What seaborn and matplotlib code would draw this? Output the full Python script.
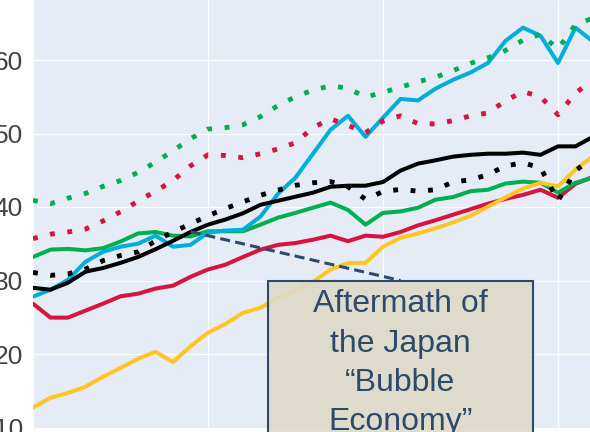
import pandas as pd
import matplotlib.pyplot as plt
from matplotlib.colors import to_rgba
from matplotlib.patches import Rectangle
import seaborn as sns

years = list(range(1980, 2013))

black_solid = [29.0, 28.75, 29.7, 31.2, 31.7, 32.4, 33.2, 34.25, 35.4, 36.6, 37.6, 38.3, 39.15,
               40.3, 40.85, 41.4, 41.95, 42.75, 42.9, 42.9, 43.4, 44.95, 45.9, 46.35, 46.85,
               47.1, 47.25, 47.25, 47.4, 47.1, 48.25, 48.25, 49.55]
cyan_solid = [27.8, 28.75, 30.1, 32.55, 33.9, 34.6, 35.0, 36.1, 34.6, 34.85, 36.5, 36.8, 36.9,
              38.7, 41.8, 44.0, 47.25, 50.5, 52.4, 49.55, 52.15, 54.7, 54.5, 56.1, 57.3,
              58.3, 59.6, 62.6, 64.4, 63.3, 59.6, 64.4, 62.5]
green_solid = [33.2, 34.2, 34.3, 34.1, 34.4, 35.3, 36.4, 36.6, 36.1, 36.0, 36.7, 36.7, 36.7,
               37.6, 38.55, 39.2, 39.9, 40.6, 39.6, 37.6, 39.2, 39.4, 39.9, 41.0, 41.35,
               42.15, 42.35, 43.2, 43.45, 43.3, 41.95, 43.3, 44.0]
red_solid = [26.85, 24.95, 24.95, 25.9, 26.85, 27.85, 28.2, 28.9, 29.3, 30.5, 31.5, 32.15, 33.2,
             34.2, 34.85, 35.1, 35.55, 36.1, 35.35, 36.1, 35.95, 36.6, 37.5, 38.2, 38.95,
             39.7, 40.45, 41.1, 41.65, 42.35, 41.25, 43.15, 44.1]
yellow_solid = [12.7, 14.05, 14.7, 15.55, 16.9, 18.1, 19.35, 20.3, 18.9, 21.05, 22.9, 24.1, 25.6,
                26.3, 27.65, 28.6, 29.8, 31.5, 32.35, 32.4, 34.6, 35.8, 36.4, 37.1, 37.9,
                38.8, 40.05, 41.3, 42.5, 43.3, 42.8, 45.1, 46.9]
green_dotted = [40.9, 40.45, 41.2, 41.85, 42.8, 43.6, 44.7, 46.1, 47.65, 49.3, 50.6, 50.8, 51.2,
                52.3, 53.8, 55.0, 55.9, 56.5, 56.15, 54.95, 55.6, 56.3, 57.05, 57.65, 58.55,
                59.55, 60.3, 61.3, 62.7, 63.5, 61.5, 64.8, 65.7]
red_dotted = [35.7, 36.3, 36.6, 37.0, 38.1, 39.35, 40.8, 42.15, 43.6, 45.6, 47.1, 47.0, 46.7,
              47.25, 47.9, 48.75, 50.8, 52.0, 51.1, 50.1, 51.7, 52.4, 51.35, 51.3, 51.75,
              52.4, 52.8, 54.45, 55.7, 55.0, 52.55, 55.5, 57.3]
black_dotted = [31.1, 30.7, 30.9, 31.55, 32.7, 33.4, 33.9, 35.4, 36.6, 37.7, 38.8, 39.8, 40.7,
                41.6, 42.3, 42.95, 43.3, 43.45, 42.75, 41.05, 42.1, 42.4, 42.15, 42.35, 43.4,
                43.7, 44.4, 45.6, 46.0, 45.35, 40.85, 44.95, 46.7]

y_ticks = [10, 20, 30, 40, 50, 60]
note_text = "Aftermath of\nthe Japan\n\u201cBubble\nEconomy\u201d"

solid_lines = [
    (red_solid, "#D6143F"),
    (green_solid, "#00AF50"),
    (cyan_solid, "#00AEDB"),
    (black_solid, "#000000"),
    (yellow_solid, "#FFC425"),
]
dotted_lines = [
    (black_dotted, "#000000"),
    (red_dotted, "#D6143F"),
    (green_dotted, "#00AF50"),
]

sns.set_style("darkgrid", {"axes.facecolor": "#E5ECF6", "grid.color": "white"})
plt.rcParams["font.family"] = ["Liberation Sans", "DejaVu Sans"]

fig = plt.figure(figsize=(5.9, 4.32), dpi=100)
ax = fig.add_axes([33 / 590, 4.5 / 432, 557 / 590, 427.5 / 432])

for vals, color in solid_lines:
    sns.lineplot(x=years, y=vals, color=color, linewidth=2.9, ax=ax)
for vals, color in dotted_lines:
    sns.lineplot(x=years, y=vals, color=color, linewidth=3.5,
                 linestyle=(0, (1, 2.6)), ax=ax)

ax.set_xlim(1980, 1980 + 557 / 17.5)
ax.set_ylim(10, 10 + 427.5 / 7.35)
ax.set_xticks([1980, 1990, 2000, 2010])
ax.set_yticks(y_ticks)
ax.tick_params(axis="x", labelbottom=False, length=0)
ax.tick_params(axis="y", labelsize=19, labelcolor="#444444", pad=7.2, length=0)
ax.grid(color="white", linewidth=0.9)
ax.set_xlabel("")
ax.set_ylabel("")
for s in ax.spines.values():
    s.set_visible(False)

# annotation: dashed pointer + box
note_color = "#2D4A6B"
ax.plot([1989.0, 2001.0], [36.65, 30.0], color=note_color, lw=2.2,
        dashes=(3.3, 1.7), zorder=5)
ax.add_patch(Rectangle((1993.43, 0), 15.14, 30.0, facecolor=to_rgba("#DEDAC8", 0.9),
                       edgecolor=note_color, lw=1.5, clip_on=False, zorder=6))
ax.text(2001.0, 28.8, note_text, ha="center", va="top", fontsize=23,
        color=note_color, linespacing=1.4, zorder=7, clip_on=False)

fig.savefig("out.png", dpi=100)
